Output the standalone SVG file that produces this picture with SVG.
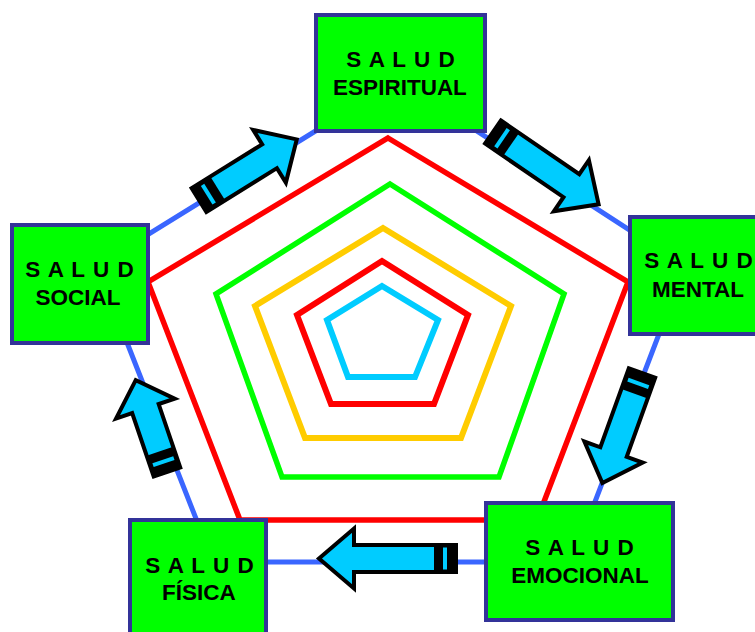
<svg xmlns="http://www.w3.org/2000/svg" width="755" height="632" viewBox="0 0 755 632">
<style>
.pent{fill:none;stroke-linejoin:miter;stroke-miterlimit:10}
.box{fill:#00ff00;stroke:#333399;stroke-width:4}
.lbl{font-family:"Liberation Sans",Arial,sans-serif;font-weight:bold;font-size:22.5px;fill:#000;text-anchor:middle}
.sp{letter-spacing:1px}
.arr{fill:#00ccff;stroke:#000;stroke-width:4;stroke-linejoin:miter;stroke-miterlimit:10}
</style>
<defs>
<g id="tail">
<rect x="0" y="-14" width="22" height="28" fill="#000"/>
<rect x="9" y="-11" width="4" height="22" fill="#00ccff"/>
</g>
</defs>
<rect width="755" height="632" fill="#fff"/>
<g id="connectors">
<polygon class="pent" stroke="#3a66ff" stroke-width="5" points="398,80 685,266 572,562 213,562 97,266"/>
<polygon class="pent" stroke="#ff0000" stroke-width="5.5" points="388,138 628,282 537,520 240,520 148,282"/>
<polygon class="pent" stroke="#00ff00" stroke-width="5.5" points="390,184 564,294 499,477 282,477 216,294"/>
<polygon class="pent" stroke="#ffcc00" stroke-width="6" points="383,228 511,306 461,438 305,438 255,306"/>
<polygon class="pent" stroke="#ff0000" stroke-width="6" points="382,261 468,315 434,404 331,404 297,315"/>
<polygon class="pent" stroke="#00ccff" stroke-width="6" points="382,286 438,320 415,377 348,377 327,320"/>
</g>
<g id="espiritual">
<rect class="box" x="316" y="15" width="169" height="116"/>
<text class="lbl sp" x="401" y="67">S A L U D</text>
<text class="lbl" x="400" y="95">ESPIRITUAL</text>
</g>
<g id="social">
<rect class="box" x="12" y="225" width="136" height="118"/>
<text class="lbl sp" x="80" y="277">S A L U D</text>
<text class="lbl" x="78" y="305">SOCIAL</text>
</g>
<g id="mental">
<rect class="box" x="630" y="217" width="140" height="117"/>
<text class="lbl sp" x="699" y="268">S A L U D</text>
<text class="lbl" x="698" y="297">MENTAL</text>
</g>
<g id="emocional">
<rect class="box" x="486" y="503" width="187" height="117"/>
<text class="lbl sp" x="580" y="555">S A L U D</text>
<text class="lbl" x="580" y="583">EMOCIONAL</text>
</g>
<g id="fisica">
<rect class="box" x="130" y="520" width="136" height="130"/>
<text class="lbl sp" x="200" y="573">S A L U D</text>
<text class="lbl" x="199" y="600">FÍSICA</text>
</g>
<g id="arrows">
<g transform="translate(199,200) rotate(-31.8)">
<path class="arr" d="M0,-14 H83 V-31 L115,0 L83,31 V14 H0 Z"/>
<use href="#tail"/>
</g>
<g transform="translate(493,132) rotate(34.4)">
<path class="arr" d="M0,-14 H95 V-31 L128,0 L95,31 V14 H0 Z"/>
<use href="#tail"/>
</g>
<g transform="translate(642,373) rotate(109.8)">
<path class="arr" d="M0,-14 H84 V-31 L117,0 L84,31 V14 H0 Z"/>
<use href="#tail"/>
</g>
<g transform="translate(456,558.5) rotate(180)">
<path class="arr" d="M0,-13.5 H102 V-30 L137,0 L102,30 V13.5 H0 Z"/>
<use href="#tail"/>
</g>
<g transform="translate(167,472) rotate(-108.8)">
<path class="arr" d="M0,-14 H67 V-31 L97,0 L67,31 V14 H0 Z"/>
<use href="#tail"/>
</g>
</g>
</svg>
